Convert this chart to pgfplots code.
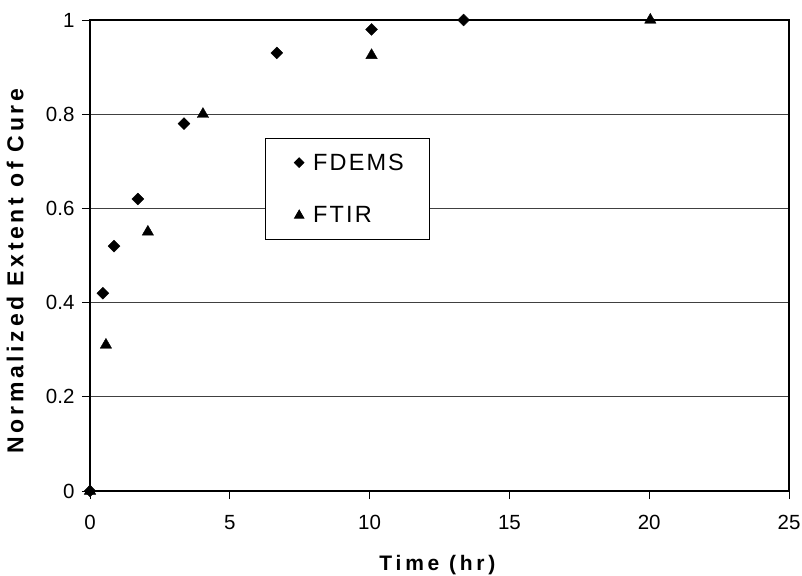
\documentclass[border=0pt]{standalone}
\usepackage{fontspec}
\setmainfont{Liberation Sans}
\newfontfamily\xlabfont[LetterSpace=18]{Liberation Sans}
\newfontfamily\ylabfont[LetterSpace=16]{Liberation Sans}
\newfontfamily\legfont[LetterSpace=9]{Liberation Sans}
\usepackage{pgfplots}
\pgfplotsset{compat=1.18}
\begin{document}
\begin{tikzpicture}
\begin{axis}[
  scale only axis,
  width=699pt, height=471pt,
  xmin=0, xmax=25, ymin=0, ymax=1,
  xtick={0,5,10,15,20,25},
  ytick={0,0.2,0.4,0.6,0.8,1},
  yticklabels={0,0.2,0.4,0.6,0.8,1},
  tick pos=left,
  tick align=outside,
  major tick length=8pt,
  tick style={black, line width=0.9pt},
  ymajorgrids,
  grid style={black!75, line width=0.9pt},
  axis line style={black, line width=1.1pt},
  /pgf/number format/assume math mode=true,
  ticklabel style={font=\fontsize{20.5}{23}\selectfont},
  xticklabel style={yshift=-13pt},
  yticklabel style={xshift=-4pt},
  xlabel={Time (hr)},
  ylabel={Normalized Extent of Cure},
  xlabel style={font=\xlabfont\bfseries\fontsize{21}{24}\selectfont, at={(axis description cs:0.497,-0.157)}, anchor=center},
  ylabel style={font=\ylabfont\bfseries\fontsize{23}{26}\selectfont, at={(axis description cs:-0.107,0.467)}, anchor=center},
  clip=false,
  legend style={at={(0.25,0.749)}, anchor=north west, draw=black, line width=0.9pt, fill=white,
    inner xsep=24pt, inner ysep=13pt, row sep=31pt,
    font=\legfont\fontsize{23.5}{26}\selectfont, cells={anchor=west}},
  legend image code/.code={\path[draw=none,fill=none] (0pt,0pt) -- (22pt,0pt); \draw[#1,every mark/.append style={scale=0.8}] plot[only marks] coordinates {(10pt,0pt)};},
]
\addplot[only marks, mark=square*, mark size=4.2pt, mark options={rotate=45, fill=black, draw=black}]
  coordinates {(0,0) (0.46,0.42) (0.86,0.52) (1.71,0.62) (3.36,0.78) (6.68,0.93) (10.07,0.98) (13.36,1.0)};
\addlegendentry{FDEMS}
\addplot[only marks, mark=triangle*, mark size=6.6pt, mark options={fill=black, draw=black}]
  coordinates {(0,0) (0.57,0.31) (2.07,0.55) (4.04,0.80) (10.07,0.925) (20.04,1.0)};
\addlegendentry{FTIR}
\end{axis}
\pgfresetboundingbox
\path ([shift={(-90pt,-84pt)}]current axis.south west) rectangle ([shift={(13pt,20pt)}]current axis.north east);
\end{tikzpicture}
\end{document}
